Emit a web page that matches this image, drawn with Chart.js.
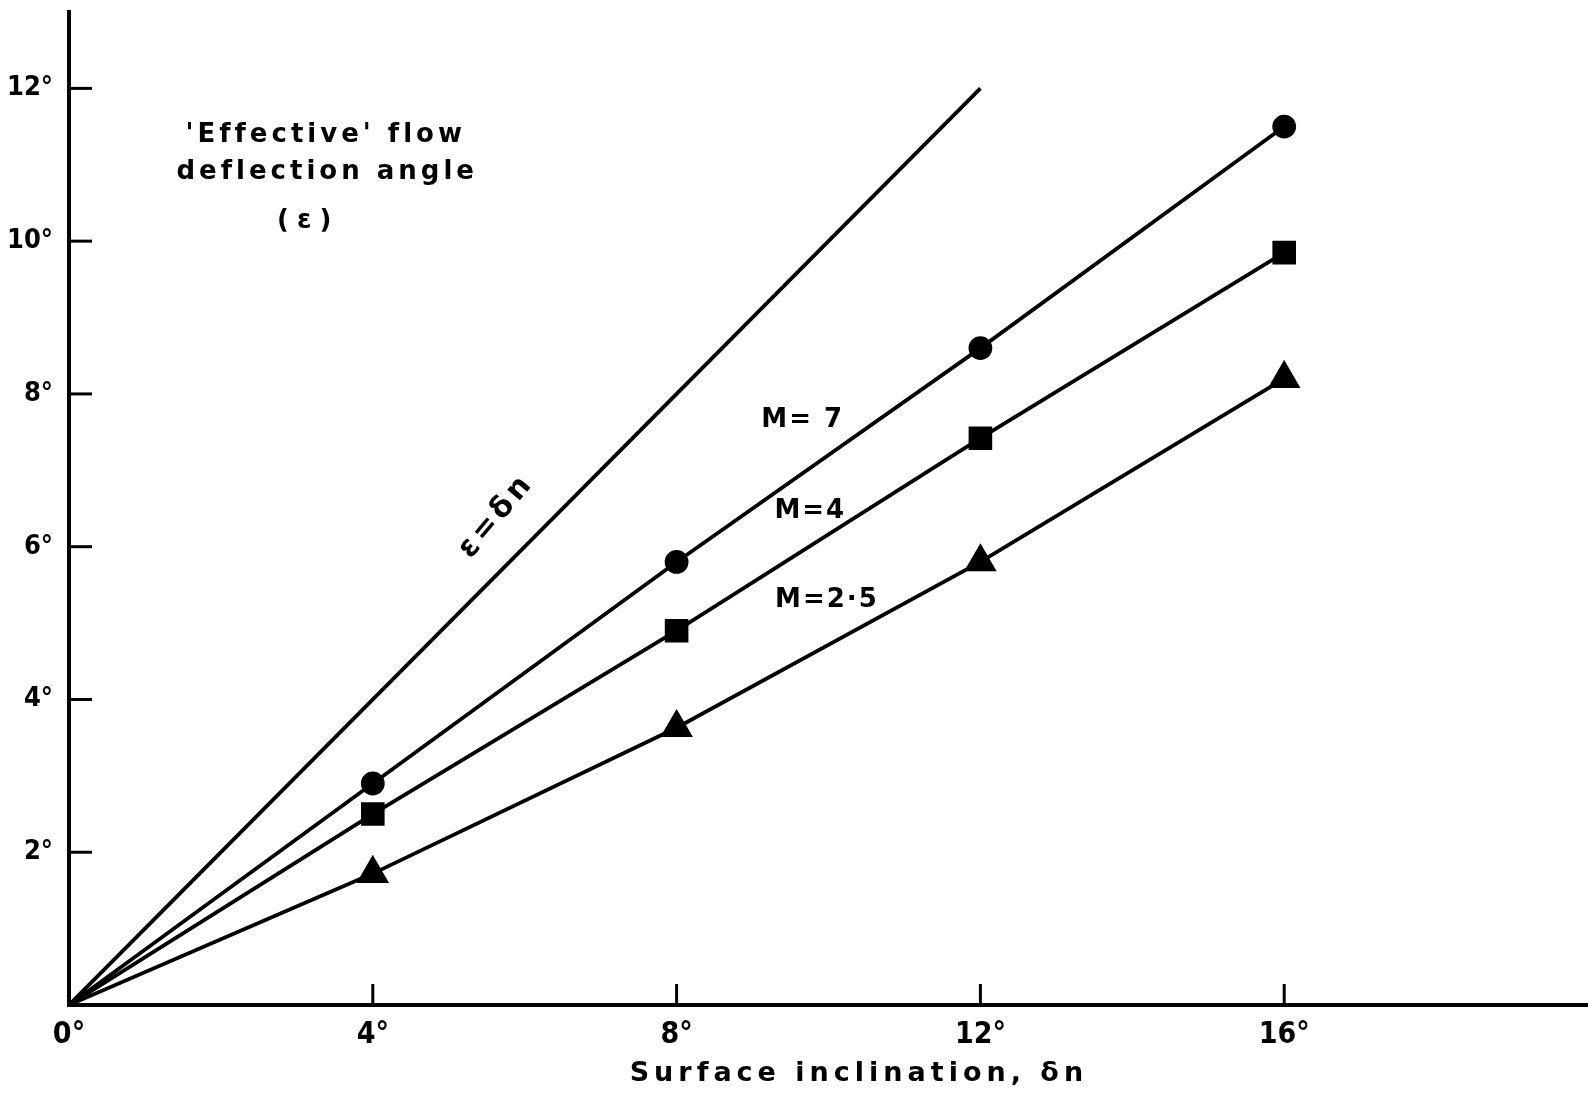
<!DOCTYPE html>
<html>
<head>
<meta charset="utf-8">
<script src="https://cdn.jsdelivr.net/npm/chart.js@4.4.0/dist/chart.umd.min.js"></script>
<style>
  html, body { margin: 0; padding: 0; background: #fff; }
  #wrap { width: 1588px; height: 1095px; }
</style>
</head>
<body>
<div id="wrap"><canvas id="flowChart"></canvas></div>
<script>
// surface inclination (deg)
const inclination = [0, 4, 8, 12, 16];
// effective deflection angle (deg) per Mach number
const machSeven = [0, 2.9, 5.8, 8.6, 11.5];
const machFour = [0, 2.5, 4.9, 7.42, 9.85];
const machTwoFive = [0, 1.72, 3.63, 5.8, 8.2];
// reference line eps = delta n
const equalX = [0, 12];
const equalY = [0, 12];

const xTickValues = [0, 4, 8, 12, 16];
const yTickValues = [2, 4, 6, 8, 10, 12];

const tickFont = "'Liberation Sans Narrow', 'DejaVu Sans Condensed', 'DejaVu Sans', sans-serif";
const noteFont = "'DejaVu Sans', sans-serif";

function toPoints(xs, ys) {
  return xs.map((x, i) => ({ x: x, y: ys[i] }));
}

function series(label, ys, style, size) {
  return {
    label: label,
    data: toPoints(inclination, ys),
    showLine: true,
    borderColor: '#000',
    backgroundColor: '#000',
    borderWidth: 3.8,
    pointStyle: style,
    pointRadius: [0, size, size, size, size],
    pointHoverRadius: 0
  };
}

// ticks pointing into the plot + text notes
const notesPlugin = {
  id: 'notes',
  afterDraw(chart) {
    const ctx = chart.ctx;
    const xs = chart.scales.x;
    const ys = chart.scales.y;
    const area = chart.chartArea;
    ctx.save();
    ctx.strokeStyle = '#000';
    ctx.lineWidth = 3;
    xTickValues.slice(1).forEach(v => {
      const px = xs.getPixelForValue(v);
      ctx.beginPath();
      ctx.moveTo(px, area.bottom);
      ctx.lineTo(px, area.bottom - 21);
      ctx.stroke();
    });
    yTickValues.forEach(v => {
      const py = ys.getPixelForValue(v);
      ctx.beginPath();
      ctx.moveTo(area.left, py);
      ctx.lineTo(area.left + 23, py);
      ctx.stroke();
    });

    ctx.fillStyle = '#000';
    ctx.textAlign = 'center';
    ctx.textBaseline = 'middle';
    const note = (t, x, y) => ctx.fillText(t, xs.getPixelForValue(x), ys.getPixelForValue(y));

    ctx.font = "bold 26px " + noteFont;
    ctx.letterSpacing = '4px';
    note("'Effective' flow", 3.38, 11.38);
    note('deflection angle', 3.4, 10.9);
    ctx.letterSpacing = '8px';
    note('(ε)', 3.15, 10.26);

    ctx.letterSpacing = '2px';
    note('M= 7', 9.66, 7.66);
    note('M=4', 9.76, 6.47);
    note('M=2·5', 9.98, 5.3);

    // axis title, spaced out like the lettering
    ctx.font = "bold 27px " + noteFont;
    ctx.letterSpacing = '5px';
    ctx.fillText('Surface inclination, δn', xs.getPixelForValue(10.4), area.bottom + 69);

    ctx.font = "bold 30px " + noteFont;
    ctx.letterSpacing = '4px';
    ctx.translate(xs.getPixelForValue(5.63), ys.getPixelForValue(6.4));
    ctx.rotate(-50 * Math.PI / 180);
    ctx.fillText('ε=δn', 0, 0);
    ctx.restore();
  }
};

const ctx = document.getElementById('flowChart').getContext('2d');
const flowChart = new Chart(ctx, {
  type: 'scatter',
  data: {
    datasets: [
      {
        label: 'ε = δn',
        data: toPoints(equalX, equalY),
        showLine: true,
        borderColor: '#000',
        borderWidth: 3.8,
        pointRadius: 0
      },
      series('M = 7', machSeven, 'circle', 10),
      series('M = 4', machFour, 'rect', 14),
      series('M = 2.5', machTwoFive, 'triangle', 15)
    ]
  },
  options: {
    responsive: true,
    maintainAspectRatio: false,
    animation: false,
    layout: { autoPadding: false, padding: { top: 12, right: 0, left: 0, bottom: 0 } },
    plugins: {
      legend: { display: false },
      tooltip: { enabled: false }
    },
    scales: {
      x: {
        type: 'linear',
        min: 0,
        max: 20,
        afterBuildTicks: (scale) => { scale.ticks = xTickValues.map(v => ({ value: v })); },
        afterFit: (scale) => {
          scale.height = 90;
          scale.paddingLeft = 0;
          scale.paddingRight = 0;
        },
        grid: { display: false, drawTicks: false },
        border: { display: true, color: '#000', width: 4 },
        ticks: {
          color: '#000',
          padding: 12,
          maxRotation: 0,
          font: { family: tickFont, size: 30, weight: 'bold' },
          callback: (v) => v + '°'
        }
      },
      y: {
        type: 'linear',
        min: 0,
        max: 13,
        afterBuildTicks: (scale) => { scale.ticks = yTickValues.map(v => ({ value: v })); },
        afterFit: (scale) => {
          scale.width = 69;
          scale.paddingTop = 0;
          scale.paddingBottom = 0;
        },
        grid: { display: false, drawTicks: false },
        border: { display: true, color: '#000', width: 4 },
        ticks: {
          color: '#000',
          padding: 16,
          font: { family: tickFont, size: 27, weight: 'bold' },
          callback: (v) => v + '°'
        }
      }
    }
  },
  plugins: [notesPlugin]
});
</script>
</body>
</html>
